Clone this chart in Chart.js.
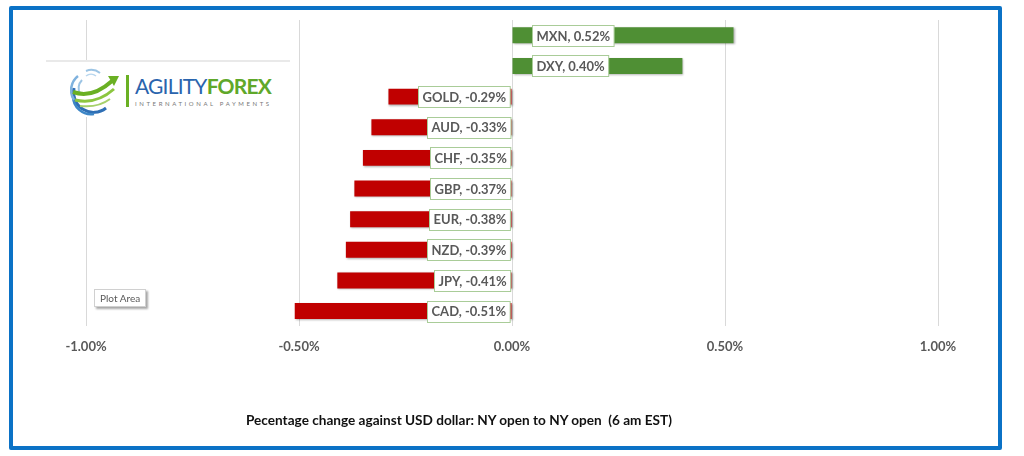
<!DOCTYPE html>
<html>
<head>
<meta charset="utf-8">
<script src="https://cdn.jsdelivr.net/npm/chart.js@4.4.1/dist/chart.umd.min.js"></script>
<style>
  html, body { margin: 0; padding: 0; background: #fff; }
  #wrap { position: relative; width: 1024px; height: 456px; overflow: hidden; font-family: Lato, "Open Sans", sans-serif; }
  #frame { position: absolute; left: 9px; top: 6px; width: 993px; height: 444px; box-sizing: border-box; border: 4px solid #0b72c6; border-radius: 2px; }
  #logo { position: absolute; left: 46px; top: 60px; width: 244px; height: 55px; background: #fff; border-top: 2px solid #e9e9e9; }
  #logo svg { position: absolute; left: 24px; top: 6px; }
  #logo .bar { position: absolute; left: 80px; top: 13px; width: 3px; height: 32px; background: #6ab023; }
  #logo .name { position: absolute; left: 89px; top: 12px; font-size: 21px; letter-spacing: -0.8px; white-space: nowrap; line-height: 24px; }
  #logo .name .a { color: #2a64ad; font-weight: 400; }
  #logo .name .f { color: #5fa82a; font-weight: 700; }
  #logo .sub { position: absolute; left: 89px; top: 38px; font-size: 6px; letter-spacing: 2.6px; color: #777; white-space: nowrap; }
  #plotarea { position: absolute; left: 94px; top: 289px; padding: 2px 5px; font-size: 10px; color: #595959; background: #fff; border: 1px solid #d0d0d0; box-shadow: 2px 2px 2px rgba(0,0,0,0.35); }
  #caption { position: absolute; left: 246px; top: 412px; font-size: 13.6px; font-weight: 700; color: #111; white-space: pre; }
  canvas { position: absolute; left: 0; top: 0; }
</style>
</head>
<body>
<div id="wrap">
  <canvas id="chart" width="1024" height="456"></canvas>
  <div id="frame"></div>
  <div id="logo">
    <svg width="52" height="48" viewBox="0 0 52 48">
      <path d="M4 20 A20 20 0 0 0 36 40" stroke="#2f6fb5" stroke-width="3" fill="none"/>
      <path d="M3 28 A18 18 0 0 0 24 46" stroke="#3d86c6" stroke-width="2.5" fill="none"/>
      <path d="M8 8 A18 18 0 0 0 4 32" stroke="#7fb2de" stroke-width="2.5" fill="none"/>
      <path d="M12 12 A12 12 0 0 0 10 26" stroke="#9cc4e4" stroke-width="2" fill="none"/>
      <path d="M16 3 A14 14 0 0 1 30 5" stroke="#9cc4e4" stroke-width="2" fill="none"/>
      <path d="M16 8 A8 8 0 0 1 26 8" stroke="#b8d6ee" stroke-width="1.5" fill="none"/>
      <path d="M3 24 Q22 31 42 13" stroke="#6ab023" stroke-width="4" fill="none"/>
      <path d="M5 32 Q26 37 44 21" stroke="#8cc63f" stroke-width="3" fill="none"/>
      <path d="M10 38 Q28 40 40 31" stroke="#a6d06b" stroke-width="2" fill="none"/>
      <path d="M38 8 L49 8 L44 18 Z" fill="#6ab023"/>
    </svg>
    <div class="bar"></div>
    <div class="name"><span class="a">AGILITY</span><span class="f">FOREX</span></div>
    <div class="sub">INTERNATIONAL PAYMENTS</div>
  </div>
  <div id="plotarea">Plot Area</div>
  <div id="caption">Pecentage change against USD dollar: NY open to NY open  (6 am EST)</div>
</div>
<script>
const categories = ['MXN', 'DXY', 'GOLD', 'AUD', 'CHF', 'GBP', 'EUR', 'NZD', 'JPY', 'CAD'];
const changes = [0.52, 0.40, -0.29, -0.33, -0.35, -0.37, -0.38, -0.39, -0.41, -0.51];
const tickValues = [-1, -0.5, 0, 0.5, 1];

const barColors = changes.map(v => v >= 0 ? '#4f8f34' : '#c00000');

// small shadow under the bars, like the excel picture
const barShadow = {
  id: 'barShadow',
  beforeDatasetsDraw(chart) {
    const c = chart.ctx;
    c.save();
    c.shadowColor = 'rgba(0,0,0,0.3)';
    c.shadowBlur = 2;
    c.shadowOffsetX = 1;
    c.shadowOffsetY = 1;
  },
  afterDatasetsDraw(chart) {
    chart.ctx.restore();
  }
};

// label boxes "CAT, x.xx%"
const boxLabels = {
  id: 'boxLabels',
  afterDraw(chart) {
    const c = chart.ctx;
    const xs = chart.scales.x;
    const zero = xs.getPixelForValue(0);
    const meta = chart.getDatasetMeta(0);
    c.save();
    c.font = 'bold 13px Lato, "Open Sans", sans-serif';
    c.textBaseline = 'middle';
    meta.data.forEach((bar, i) => {
      const v = changes[i];
      const txt = categories[i] + ', ' + v.toFixed(2) + '%';
      const w = c.measureText(txt).width + 8;
      const h = 21;
      const left = v < 0 ? zero - 2 - w : zero + 20;
      const top = Math.round(bar.y - h / 2) + 0.5;
      c.fillStyle = '#fff';
      c.fillRect(Math.round(left) + 0.5, top, w, h);
      c.strokeStyle = '#a9cc98';
      c.lineWidth = 1;
      c.strokeRect(Math.round(left) + 0.5, top, w, h);
      c.fillStyle = '#595959';
      c.textAlign = 'left';
      c.fillText(txt, Math.round(left) + 4.5, bar.y + 1);
    });
    c.restore();
  }
};

const ctx = document.getElementById('chart').getContext('2d');
const chart = new Chart(ctx, {
  type: 'bar',
  data: {
    labels: categories,
    datasets: [{
      data: changes,
      backgroundColor: barColors,
      borderWidth: 0,
      barPercentage: 0.52,
      categoryPercentage: 1
    }]
  },
  options: {
    indexAxis: 'y',
    responsive: false,
    animation: false,
    events: [],
    layout: { padding: { left: 86, right: 86, top: 20, bottom: 88 } },
    plugins: {
      legend: { display: false },
      tooltip: { enabled: false }
    },
    scales: {
      x: {
        min: -1,
        max: 1,
        afterBuildTicks(axis) { axis.ticks = tickValues.map(v => ({ value: v })); },
        grid: { color: '#d9d9d9', drawTicks: false },
        border: { display: false },
        ticks: {
          padding: 13,
          color: '#595959',
          font: { family: 'Lato, "Open Sans", sans-serif', size: 13, weight: 'bold' },
          callback: v => v.toFixed(2) + '%'
        }
      },
      y: { display: false }
    }
  },
  plugins: [barShadow, boxLabels]
});
</script>
</body>
</html>
